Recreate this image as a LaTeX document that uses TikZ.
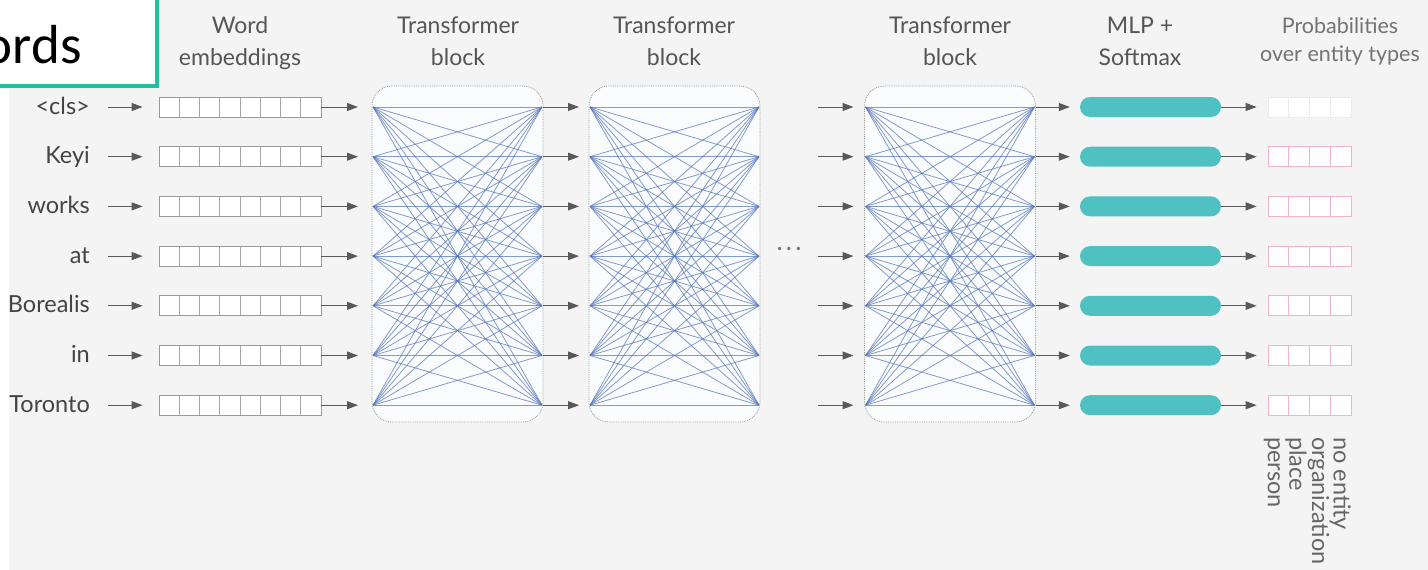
\documentclass[tikz,border=0pt]{standalone}
\usepackage{fontspec}
\setmainfont{Lato}
\newfontfamily\titlefont{Carlito}
\usetikzlibrary{positioning,arrows.meta}

\definecolor{bggray}{HTML}{F4F4F4}
\definecolor{tealedge}{HTML}{1EC39B}
\definecolor{mlpteal}{HTML}{4FC1C2}
\definecolor{linkblue}{HTML}{5577B8}
\definecolor{probpink}{HTML}{F0B4C4}
\definecolor{wordgray}{HTML}{444444}
\definecolor{headgray}{HTML}{555555}
\definecolor{blockfill}{HTML}{FAFBFD}

\tikzset{
  word/.style={anchor=east, text=wordgray, inner sep=0pt,
    text height=14pt, text depth=0pt,
    font=\fontsize{23.5}{25}\selectfont},
  head/.style={align=center, text=headgray, inner sep=0pt,
    font=\fontsize{23}{32}\selectfont},
  flow/.style={draw=black!65, line width=1pt,
    -{Triangle[length=11pt,width=8pt]}},
  embbox/.style={draw=black!40, fill=white, line width=0.8pt,
    minimum width=162pt, minimum height=20pt, inner sep=0pt,
    path picture={\foreach \c in {1,...,7}
      \draw[black!35, line width=0.7pt]
        ([xshift=\c*20.25pt]path picture bounding box.south west) --
        ([xshift=\c*20.25pt]path picture bounding box.north west);}},
  tblock/.style={draw=black!40, densely dotted, fill=blockfill,
    rounded corners=20pt, line width=0.8pt,
    minimum width=171pt, minimum height=336pt, inner sep=0pt},
  link/.style={draw=linkblue, line width=0.8pt, opacity=0.72},
  mlpbar/.style={fill=mlpteal, rounded corners=10pt,
    minimum width=141pt, minimum height=20pt, inner sep=0pt},
  probbox/.style={draw=probpink, fill=white, line width=0.7pt,
    minimum width=83pt, minimum height=20pt, inner sep=0pt,
    path picture={\foreach \c in {1,2,3}
      \draw[#1, line width=0.7pt]
        ([xshift=\c*20.75pt]path picture bounding box.south west) --
        ([xshift=\c*20.75pt]path picture bounding box.north west);}},
  probbox/.default=probpink,
}

\begin{document}
\begin{tikzpicture}[x=1pt,y=-1pt]

    % canvas
    \useasboundingbox (0,0) rectangle (1428,570);
    \fill[bggray] (9,0) rectangle (1428,570);

    % title box, cut at the left edge
    \node[draw=tealedge, line width=4pt, fill=white,
        minimum width=200pt, minimum height=110pt,
        anchor=south east
    ] (title) at (159,88) {};
    \node[anchor=base east, inner sep=0pt,
        font=\titlefont\fontsize{55}{60}\selectfont
    ] (titletext) at (82,63) {ords};

    % column headings
    \node[head] (hemb) at (240,43.5) {Word\\embeddings};
    \node[head] (htb1) at (458,41.5) {Transformer\\block};
    \node[head] (htb2) at (674,41.5) {Transformer\\block};
    \node[head] (htb3) at (950,41.5) {Transformer\\block};
    \node[head] (hmlp) at (1140,41.5) {MLP +\\Softmax};
    \node[head, text=black!55, font=\fontsize{21.5}{28}\selectfont]
        (hprob) at (1340,41.5) {Probabilities\\over entity types};

    % transformer blocks with all-to-all links
    \foreach \t/\cx in {1/457.5, 2/674.5, 3/950} {
        \node[tblock] (tb\t) at (\cx,254) {};
        \foreach \i in {1,...,7} {
            \coordinate (tb\t-l-\i) at (\cx-84.5, {107+49.7*(\i-1)});
            \coordinate (tb\t-r-\i) at (\cx+84.5, {107+49.7*(\i-1)});
        }
        \foreach \a in {1,...,7}
            \foreach \b in {1,...,7}
                \draw[link] (tb\t-l-\a) -- (tb\t-r-\b);
    }

    % dots between second and last block
    \node[text=black!55, inner sep=0pt, font=\fontsize{22}{24}\selectfont]
        (dots) at (789,251)
        {\textperiodcentered\,\textperiodcentered\,\textperiodcentered};

    % rows
    \foreach \i/\w in {1/{<cls>}, 2/Keyi, 3/works, 4/at,
                       5/Borealis, 6/in, 7/Toronto} {
        \node[word] (w\i) at (90, {107+49.7*(\i-1)}) {\w};
        \node[embbox] (emb\i) at (240, {107+49.7*(\i-1)}) {};
        \coordinate (gap\i) at (818, {107+49.7*(\i-1)});
        \node[mlpbar] (mlp\i) at (1150.5, {107+49.7*(\i-1)}) {};

        \draw[flow, shorten <=18pt, shorten >=16pt] (w\i.east) -- (emb\i.west);
        \draw[flow, shorten >=15pt] (emb\i.east) -- (tb1-l-\i);
        \draw[flow, shorten <=1pt, shorten >=11pt] (tb1-r-\i) -- (tb2-l-\i);
        \draw[flow, shorten >=12pt] (gap\i) -- (tb3-l-\i);
        \draw[flow, shorten <=1pt, shorten >=10pt] (tb3-r-\i) -- (mlp\i.west);
    }

    % output distributions
    \node[probbox=black!8, draw=black!8] (prob1) at (1309.5,107) {};
    \foreach \i in {2,...,7}
        \node[probbox] (prob\i) at (1309.5, {107+49.7*(\i-1)}) {};
    \foreach \i in {1,...,7}
        \draw[flow, shorten >=11pt] (mlp\i.east) -- (prob\i.west);

    \node[rotate=-90, anchor=north west, align=left, inner sep=0pt,
        text=black!60, font=\fontsize{23.5}{21.5}\selectfont
    ] (types) at (1351,437) {no entity\\organization\\place\\person};

\end{tikzpicture}
\end{document}
